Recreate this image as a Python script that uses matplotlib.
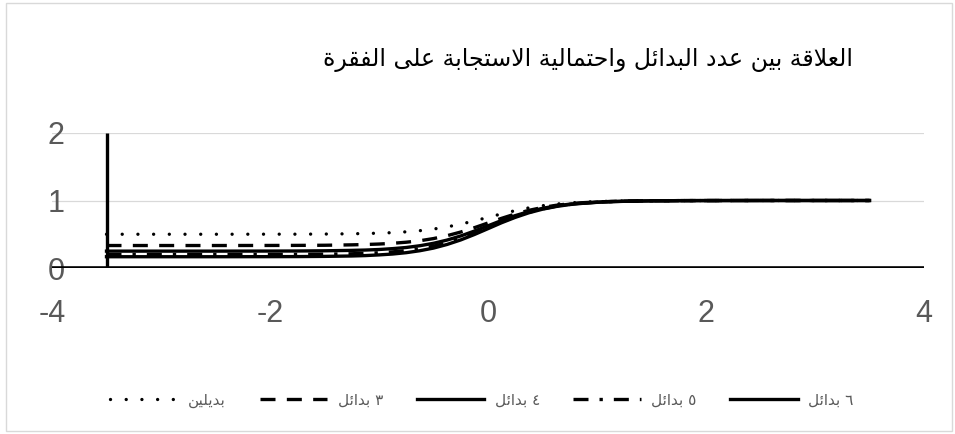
import numpy as np
import matplotlib
matplotlib.use("Agg")
from matplotlib import pyplot as plt
from matplotlib.patches import Rectangle

# ability levels and response probabilities for each number of options
theta = [-3.5, -3, -2.5, -2, -1.75, -1.5, -1.25, -1.125, -1, -0.875, -0.75, -0.625,
         -0.5, -0.375, -0.25, -0.125, 0, 0.125, 0.25, 0.375, 0.5, 0.625, 0.75,
         0.875, 1, 1.125, 1.25, 1.5, 1.75, 2, 2.5, 3, 3.5]

p_2 = [0.500, 0.500, 0.500, 0.501, 0.501, 0.503, 0.507, 0.511, 0.516, 0.524, 0.536,
       0.553, 0.577, 0.609, 0.650, 0.698, 0.750, 0.802, 0.850, 0.891, 0.923, 0.947,
       0.964, 0.976, 0.984, 0.989, 0.993, 0.997, 0.999, 0.999, 1.000, 1.000, 1.000]
p_3 = [0.333, 0.333, 0.333, 0.334, 0.335, 0.337, 0.343, 0.348, 0.355, 0.366, 0.382,
       0.404, 0.436, 0.479, 0.533, 0.597, 0.667, 0.736, 0.800, 0.854, 0.897, 0.929,
       0.952, 0.968, 0.978, 0.986, 0.991, 0.996, 0.998, 0.999, 1.000, 1.000, 1.000]
p_4 = [0.250, 0.250, 0.250, 0.251, 0.252, 0.255, 0.261, 0.266, 0.274, 0.287, 0.304,
       0.330, 0.366, 0.414, 0.475, 0.547, 0.625, 0.704, 0.776, 0.836, 0.884, 0.920,
       0.946, 0.964, 0.976, 0.984, 0.989, 0.995, 0.998, 0.999, 1.000, 1.000, 1.000]
p_5 = [0.200, 0.200, 0.200, 0.201, 0.202, 0.205, 0.211, 0.217, 0.226, 0.239, 0.258,
       0.285, 0.324, 0.375, 0.440, 0.516, 0.600, 0.684, 0.761, 0.825, 0.876, 0.915,
       0.942, 0.961, 0.974, 0.983, 0.989, 0.995, 0.998, 0.999, 1.000, 1.000, 1.000]
p_6 = [0.167, 0.167, 0.167, 0.168, 0.169, 0.172, 0.178, 0.184, 0.194, 0.207, 0.227,
       0.256, 0.295, 0.349, 0.416, 0.496, 0.583, 0.671, 0.750, 0.818, 0.871, 0.911,
       0.940, 0.959, 0.973, 0.982, 0.988, 0.995, 0.998, 0.999, 1.000, 1.000, 1.000]

series_names = ["بديلين", "٣ بدائل", "٤ بدائل", "٥ بدائل", "٦ بدائل"]
title = "العلاقة بين عدد البدائل واحتمالية الاستجابة على الفقرة"
x_ticks = [-4, -2, 0, 2, 4]
y_ticks = [0, 1, 2]

# matplotlib has no arabic shaping, so pick the contextual glyphs by hand
FORMS = {
    'ء': (0xFE80, 1), 'آ': (0xFE81, 2), 'أ': (0xFE83, 2), 'ؤ': (0xFE85, 2),
    'إ': (0xFE87, 2), 'ئ': (0xFE89, 4), 'ا': (0xFE8D, 2), 'ب': (0xFE8F, 4),
    'ة': (0xFE93, 2), 'ت': (0xFE95, 4), 'ث': (0xFE99, 4), 'ج': (0xFE9D, 4),
    'ح': (0xFEA1, 4), 'خ': (0xFEA5, 4), 'د': (0xFEA9, 2), 'ذ': (0xFEAB, 2),
    'ر': (0xFEAD, 2), 'ز': (0xFEAF, 2), 'س': (0xFEB1, 4), 'ش': (0xFEB5, 4),
    'ص': (0xFEB9, 4), 'ض': (0xFEBD, 4), 'ط': (0xFEC1, 4), 'ظ': (0xFEC5, 4),
    'ع': (0xFEC9, 4), 'غ': (0xFECD, 4), 'ف': (0xFED1, 4), 'ق': (0xFED5, 4),
    'ك': (0xFED9, 4), 'ل': (0xFEDD, 4), 'م': (0xFEE1, 4), 'ن': (0xFEE5, 4),
    'ه': (0xFEE9, 4), 'و': (0xFEED, 2), 'ى': (0xFEEF, 2), 'ي': (0xFEF1, 4),
}
LAM_ALEF = {'آ': 0xFEF5, 'أ': 0xFEF7, 'إ': 0xFEF9, 'ا': 0xFEFB}


def shape(text):
    units = []
    i = 0
    while i < len(text):
        ch = text[i]
        if ch == 'ل' and i + 1 < len(text) and text[i + 1] in LAM_ALEF:
            units.append((LAM_ALEF[text[i + 1]], 2))
            i += 2
        elif ch in FORMS:
            units.append(FORMS[ch])
            i += 1
        else:
            units.append((ch, 0))
            i += 1
    out = []
    for k, (base, n) in enumerate(units):
        if n == 0:
            out.append(base)
            continue
        prev_n = units[k - 1][1] if k > 0 else 0
        next_n = units[k + 1][1] if k + 1 < len(units) else 0
        join_prev = n >= 2 and prev_n == 4
        join_next = n == 4 and next_n >= 2
        if join_prev and join_next:
            idx = 3
        elif join_prev:
            idx = 1
        elif join_next:
            idx = 2
        else:
            idx = 0
        out.append(chr(base + idx))
    return "".join(out[::-1])


GREY = "#595959"
GRID = "#d9d9d9"
LW = 2.4

fig = plt.figure(figsize=(9.55, 4.34), dpi=100)
fig.patches.append(Rectangle((6 / 955, 3 / 434), 946 / 955, 428 / 434,
                             transform=fig.transFigure, fill=False,
                             edgecolor=GRID, linewidth=1))

ax = fig.add_axes([52 / 955, 166 / 434, 872 / 955, 135 / 434])
ax.set_xlim(-4, 4)
ax.set_ylim(0, 2)
for s in ax.spines.values():
    s.set_visible(False)

for v in y_ticks[1:]:
    ax.axhline(v, color=GRID, linewidth=0.9, zorder=0)

styles = [
    dict(linestyle=(0, (0.01, 4.7)), dash_capstyle="round"),
    dict(linestyle=(0, (4.5, 3.4))),
    dict(linestyle="-"),
    dict(linestyle=(0, (4.5, 3.3, 1, 3.3))),
    dict(linestyle="-"),
]
handles = []
for vals, name, st in zip([p_2, p_3, p_4, p_5, p_6], series_names, styles):
    h, = ax.plot(theta, vals, color="black", linewidth=LW, label=shape(name),
                 zorder=3, **st)
    handles.append(h)

# axis lines: horizontal at 0, vertical crossing at the first ability level
ax.axhline(0, color="black", linewidth=2.6, zorder=4)
ax.plot([theta[0], theta[0]], [0, 2], color="black", linewidth=2.4,
        solid_capstyle="butt", zorder=4)

ax.set_xticks(x_ticks)
ax.set_xticklabels([str(t) for t in x_ticks])
ax.set_yticks(y_ticks)
ax.set_yticklabels([str(t) for t in y_ticks])
ax.tick_params(length=0, labelsize=22, labelcolor=GREY)
ax.tick_params(axis="x", pad=22)
ax.tick_params(axis="y", pad=-3)
for lab in ax.get_xticklabels() + ax.get_yticklabels():
    lab.set_fontfamily("Liberation Sans")
for lab in ax.get_yticklabels():
    lab.set_horizontalalignment("center")

fig.text(588 / 955, 1 - 60 / 434, shape(title), fontsize=17,
         family="DejaVu Sans", color="black", ha="center", va="center")

leg = fig.legend(handles=handles, loc="center", ncol=5,
                 bbox_to_anchor=(482 / 955, 1 - 400 / 434),
                 bbox_transform=fig.transFigure, frameon=False,
                 prop={"family": "DejaVu Sans", "size": 11},
                 handlelength=4.4, handletextpad=0.7, columnspacing=2.2)
for t in leg.get_texts():
    t.set_color(GREY)

fig.savefig("out.png", dpi=100)
